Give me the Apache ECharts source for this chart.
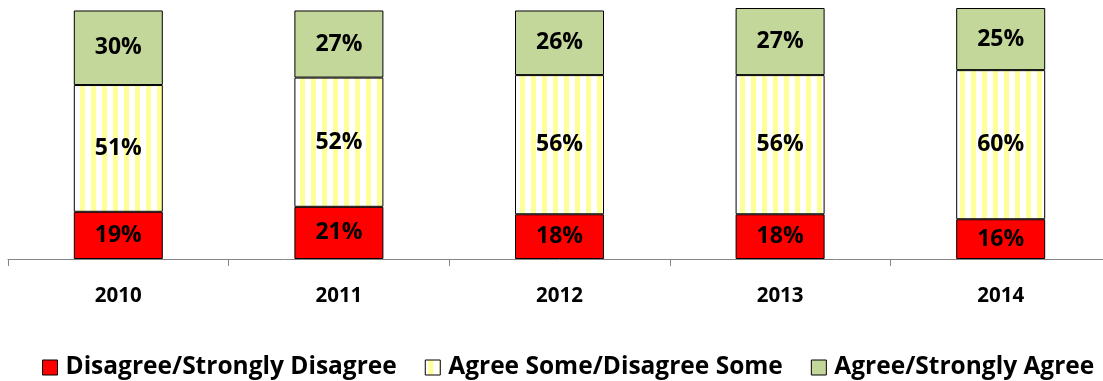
<!DOCTYPE html>
<html>
<head>
<meta charset="utf-8">
<script src="https://cdn.jsdelivr.net/npm/echarts@6/dist/echarts.min.js"></script>
<style>
  html, body { margin: 0; padding: 0; background: #fff; overflow: hidden; }
  /* the last category slot runs a little past the right edge of the page */
  #chart { width: 1111px; height: 381px; }
</style>
</head>
<body>
<div id="chart"></div>
<script>
// Survey responses by year (percent)
const years = ['2010', '2011', '2012', '2013', '2014'];
const disagree = [19, 21, 18, 18, 16];
const agreeSome = [51, 52, 56, 56, 60];
const agree = [30, 27, 26, 27, 25];
const seriesNames = ['Disagree/Strongly Disagree', 'Agree Some/Disagree Some', 'Agree/Strongly Agree'];

// Vertical light-yellow stripes for the middle band
function stripePattern() {
  const c = document.createElement('canvas');
  c.width = 11; c.height = 11;
  const g = c.getContext('2d');
  g.fillStyle = '#ffffff';
  g.fillRect(0, 0, 11, 11);
  g.fillStyle = '#ffff99';
  g.fillRect(3, 0, 5, 11);
  return { image: c, repeat: 'repeat' };
}

const FONT = '"Open Sans"';
const labelStyle = {
  show: true,
  position: 'inside',
  formatter: '{c}%',
  color: '#000',
  fontFamily: FONT,
  fontWeight: 'bold',
  fontSize: 23
};

function bar(name, data, color) {
  return {
    name: name,
    type: 'bar',
    stack: 'total',
    barWidth: 89,
    data: data,
    label: labelStyle,
    itemStyle: { color: color, borderColor: '#000', borderWidth: 1 },
    emphasis: { disabled: true }
  };
}

const chart = echarts.init(document.getElementById('chart'), null, { renderer: 'canvas' });
chart.setOption({
  animation: false,
  backgroundColor: '#fff',
  grid: { left: 8, right: 0, top: 8, bottom: 122, containLabel: false },
  xAxis: {
    type: 'category',
    data: years,
    axisLine: { lineStyle: { color: '#868686', width: 1 } },
    axisTick: { show: true, length: 7, alignWithLabel: false, lineStyle: { color: '#868686' } },
    axisLabel: { margin: 27, color: '#000', fontFamily: FONT, fontWeight: 'bold', fontSize: 20.5 }
  },
  yAxis: {
    type: 'value',
    min: 0,
    max: function (v) { return v.max; },
    show: false,
    splitLine: { show: false }
  },
  legend: {
    left: 37,
    top: 350,
    icon: 'rect',
    itemWidth: 15,
    itemHeight: 15,
    itemGap: 28,
    itemStyle: { borderColor: '#000', borderWidth: 1 },
    textStyle: { color: '#000', fontFamily: FONT, fontWeight: 'bold', fontSize: 24.5, padding: [0, 0, 0, 3] },
    data: seriesNames
  },
  series: [
    bar(seriesNames[0], disagree, '#ff0000'),
    bar(seriesNames[1], agreeSome, stripePattern()),
    bar(seriesNames[2], agree, '#c4d79b')
  ]
});
</script>
</body>
</html>
